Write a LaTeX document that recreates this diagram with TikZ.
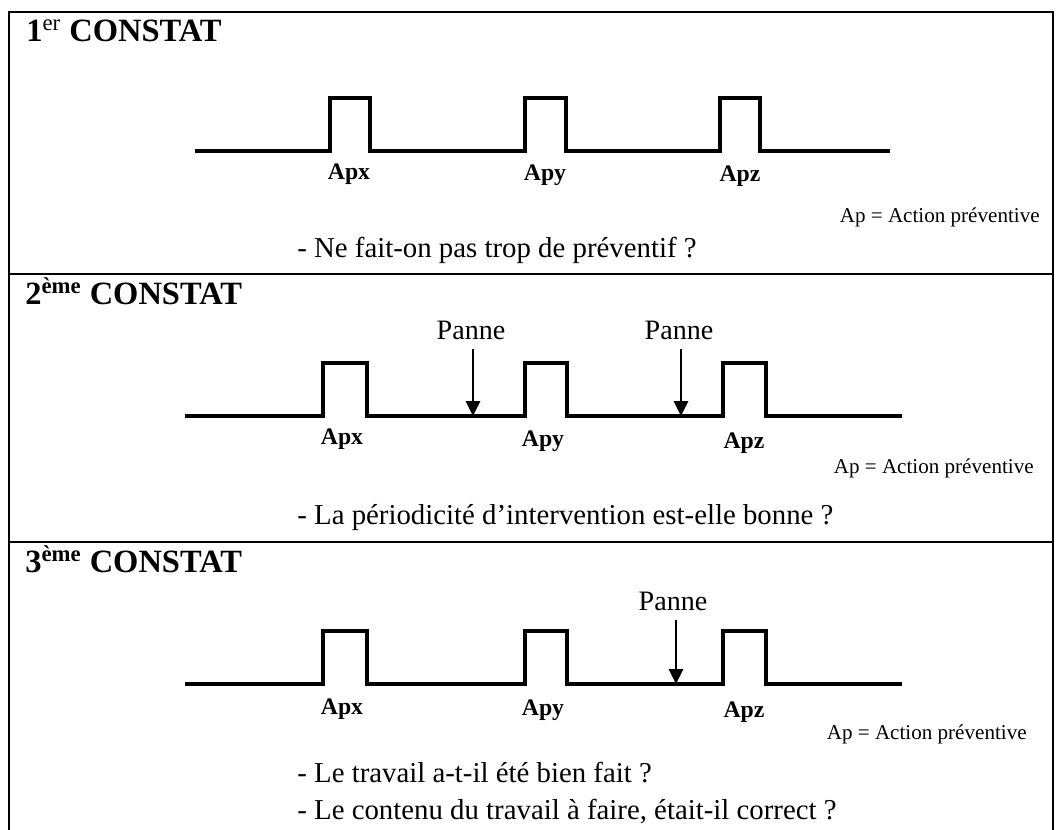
\documentclass[tikz,border=0pt]{standalone}
\usepackage{fontspec}
\setmainfont{Liberation Serif}
\usetikzlibrary{arrows.meta, positioning}

\tikzset{
  signal/.style={line width=2.1pt, line join=miter},
  cadre/.style={line width=0.8pt},
  titre/.style={anchor=base west, inner sep=0pt, font=\fontsize{18.5}{20}\selectfont\bfseries},
  apnom/.style={anchor=base, inner sep=0pt, font=\fontsize{13.5}{15}\selectfont\bfseries},
  legende/.style={anchor=base east, inner sep=0pt, font=\fontsize{12}{14}\selectfont},
  question/.style={anchor=base west, inner sep=0pt, font=\fontsize{16.4}{18}\selectfont},
  panne/.style={anchor=base, inner sep=0pt, font=\fontsize{16}{18}\selectfont},
  fleche/.style={-{Triangle[width=8pt,length=8.5pt]}, line width=1.4pt, shorten <=4.5pt},
}

\begin{document}
\begin{tikzpicture}[x=0.02cm, y=-0.02cm]
				\clip (0,0) rectangle (1063,830);
				
				%% Cadre et séparations
				\draw [cadre] (9,900) -- (9,12) -- (1053,12) -- (1053,900);
				\draw [cadre] (9,274) -- (1053,274);
				\draw [cadre] (9,542) -- (1053,542);
				
				%% 1er constat
				\node [titre] (t1) at (26,42) {1\textsuperscript{\mdseries er} CONSTAT};
				
				\draw [signal] (195,151) -- (330,151) -- (330,98) -- (370,98) -- (370,151)
				-- (525,151) -- (525,98) -- (566,98) -- (566,151)
				-- (720,151) -- (720,98) -- (760,98) -- (760,151) -- (890,151);
				
				\node [apnom] (x1) at (349,180) {Apx};
				\node [apnom] (y1) at (545,181) {Apy};
				\node [apnom] (z1) at (740,182) {Apz};
				
				\node [legende] (l1) at (1040,223) {Ap = Action préventive};
				\node [question] (q1) at (297,258) {- Ne fait-on pas trop de préventif ?};
				
				%% 2ème constat
				\node [titre] (t2) at (25,305) {2\textsuperscript{ème} CONSTAT};
				
				\draw [signal] (185,416) -- (323,416) -- (323,363) -- (367,363) -- (367,416)
				-- (525,416) -- (525,363) -- (567,363) -- (567,416)
				-- (723,416) -- (723,363) -- (766,363) -- (766,416) -- (902,416);
				
				\node [panne] (p21) at (471,340) {Panne};
				\node [panne] (p22) at (679,340) {Panne};
				\coordinate (c21) at (473,416);
				\coordinate (c22) at (681,416);
				\draw [fleche] (c21 |- p21.south) -- (c21);
				\draw [fleche] (c22 |- p22.south) -- (c22);
				
				\node [apnom] (x2) at (342,445) {Apx};
				\node [apnom] (y2) at (543,447) {Apy};
				\node [apnom] (z2) at (744,449) {Apz};
				
				\node [legende] (l2) at (1034,474) {Ap = Action préventive};
				\node [question] (q2) at (297,525) {- La périodicité d’intervention est-elle bonne ?};
				
				%% 3ème constat
				\node [titre] (t3) at (25,573) {3\textsuperscript{ème} CONSTAT};
				
				\draw [signal] (185,684) -- (323,684) -- (323,631) -- (367,631) -- (367,684)
				-- (525,684) -- (525,631) -- (567,631) -- (567,684)
				-- (723,684) -- (723,631) -- (766,631) -- (766,684) -- (902,684);
				
				\node [panne] (p31) at (673,611) {Panne};
				\coordinate (c31) at (676,684);
				\draw [fleche] (c31 |- p31.south) -- (c31);
				
				\node [apnom] (x3) at (342,715) {Apx};
				\node [apnom] (y3) at (543,716) {Apy};
				\node [apnom] (z3) at (744,718) {Apz};
				
				\node [legende] (l3) at (1027,740) {Ap = Action préventive};
				\node [question] (q31) at (297,783) {- Le travail a-t-il été bien fait ?};
				\node [question] (q32) at (297,820) {- Le contenu du travail à faire, était-il correct ?};
				
			\end{tikzpicture}
\end{document}
